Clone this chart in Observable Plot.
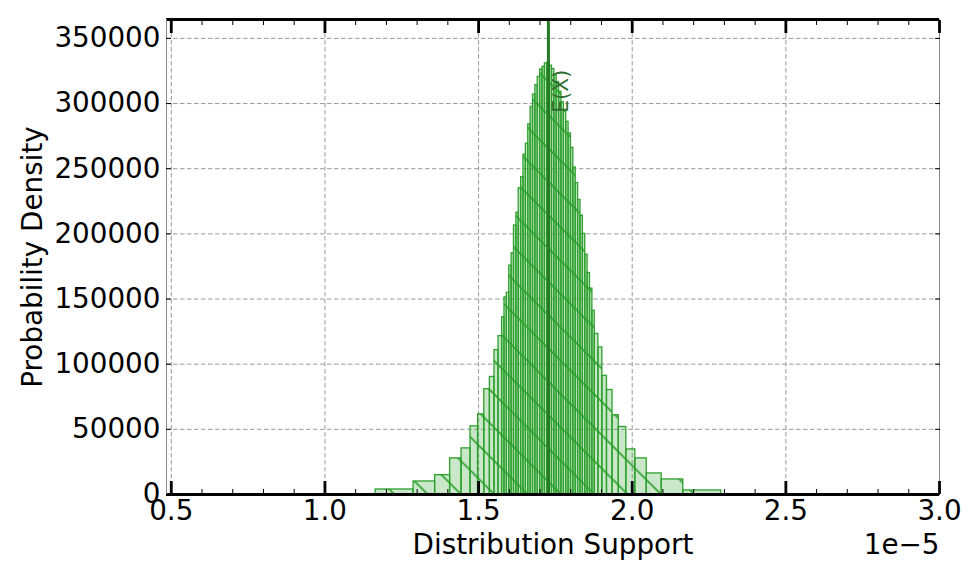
<!DOCTYPE html>
<html><head><meta charset="utf-8">
<script src="https://cdn.jsdelivr.net/npm/d3@7"></script>
<script src="https://cdn.jsdelivr.net/npm/@observablehq/plot@0.6"></script>
<style>html,body{margin:0;padding:0;background:#fff;} svg{display:block;}</style>
</head><body><div id="chart"></div>
<script>
// Bin edges (in units of 1e-5) and probability densities
const binEdges = [1.1649, 1.2884, 1.3586, 1.4074, 1.4445, 1.4737, 1.4984, 1.5186, 1.5368, 1.5518,
  1.5648, 1.5766, 1.5843, 1.5920, 1.5998, 1.6075, 1.6152, 1.6230, 1.6307, 1.6385,
  1.6462, 1.6539, 1.6617, 1.6694, 1.6771, 1.6849, 1.6926, 1.7004, 1.7081, 1.7158,
  1.7236, 1.7310, 1.7388, 1.7465, 1.7542, 1.7620, 1.7697, 1.7775, 1.7852, 1.7929,
  1.8007, 1.8084, 1.8162, 1.8239, 1.8316, 1.8394, 1.8471, 1.8548, 1.8626, 1.8703,
  1.8781, 1.8899, 1.9029, 1.9178, 1.9360, 1.9562, 1.9809, 2.0101, 2.0472, 2.0960,
  2.1662, 2.2897];
const density = [3850, 10000, 14850, 27700, 35400, 52300, 61500, 80800, 90200, 110800,
  121500, 136000, 151200, 154800, 175600, 185100, 206400, 216200, 235000, 243500,
  260800, 269200, 284100, 297400, 306900, 314100, 320500, 326200, 328200, 330800,
  331400,
  329000, 326500, 321500, 316500, 309000, 301000, 293500, 286000, 277000, 266000,
  251000, 239000, 226000, 214000, 200000, 184000, 170000, 158000, 141000, 123200,
  112800, 91000, 80200, 60800, 51800, 34600, 27700, 16150, 11540, 3080];
const meanValue = 1.7273;
const meanLabelY = 293000;
const xMajorTicks = [0.5, 1.0, 1.5, 2.0, 2.5, 3.0];
const xMinorTicks = [0.6, 0.7, 0.8, 0.9, 1.1, 1.2, 1.3, 1.4, 1.6, 1.7, 1.8, 1.9,
  2.1, 2.2, 2.3, 2.4, 2.6, 2.7, 2.8, 2.9];
const yTicks = [0, 50000, 100000, 150000, 200000, 250000, 300000, 350000];
const xDomain = [0.4844, 3.0];
const yDomain = [0, 364500];
const xLabel = "Distribution Support";
const yLabel = "Probability Density";
const offsetLabel = "1e\u22125";
const meanLabel = "E(X)";

const bins = density.map((d, i) => ({x1: binEdges[i], x2: binEdges[i + 1], density: d}));
const green = "#2ca02c";
const fs = 27.8;

function tickAxisX(anchor, ticks, size, width) {
  return Plot.axisX({anchor, ticks, tickSize: size, strokeWidth: width, stroke: "#000", fill: "none", label: null, tickFormat: () => ""});
}
function tickAxisY(anchor, ticks, size, width) {
  return Plot.axisY({anchor, ticks, tickSize: size, strokeWidth: width, stroke: "#000", fill: "none", label: null, tickFormat: () => ""});
}

const plot = Plot.plot({
  width: 980, height: 580,
  marginLeft: 166, marginRight: 41, marginTop: 19, marginBottom: 86,
  style: {fontFamily: "DejaVu Sans", fontSize: fs + "px", background: "#fff", color: "#000", overflow: "visible"},
  x: {domain: xDomain},
  y: {domain: yDomain},
  marks: [
    Plot.gridX({ticks: xMajorTicks, stroke: "#9a9a9a", strokeOpacity: 1, strokeWidth: 1, strokeDasharray: "4.5,2.5"}),
    Plot.gridY({ticks: yTicks, stroke: "#9a9a9a", strokeOpacity: 1, strokeWidth: 1, strokeDasharray: "4.5,2.5"}),
    Plot.rect(bins, {x1: "x1", x2: "x2", y1: () => 0, y2: "density", fill: green, fillOpacity: 0.25}),
    Plot.rect(bins, {x1: "x1", x2: "x2", y1: () => 0, y2: "density", fill: "url(#hatch)"}),
    Plot.rect(bins, {x1: "x1", x2: "x2", y1: () => 0, y2: "density", fill: "none", stroke: green, strokeWidth: 1.3}),
    Plot.ruleX([meanValue], {stroke: "#267a26", strokeWidth: 3}),
    Plot.text([{x: meanValue, y: meanLabelY, t: meanLabel}], {x: "x", y: "y", text: "t", rotate: -90, textAnchor: "start", lineAnchor: "middle", dx: 13.5, fill: "#2e6e2e", fontSize: 20.4}),
    Plot.ruleY([yDomain[0], yDomain[1]], {stroke: "#000", strokeWidth: 3}),
    Plot.ruleX(xDomain, {stroke: "#888", strokeWidth: 1}),
    tickAxisX("bottom", xMajorTicks, -13, 2.8),
    tickAxisX("top", xMajorTicks, -13, 2.8),
    tickAxisX("bottom", xMinorTicks, -5, 1),
    tickAxisX("top", xMinorTicks, -5, 1),
    tickAxisY("left", yTicks, -5, 1),
    tickAxisY("right", yTicks, -5, 1),
    Plot.axisX({anchor: "bottom", ticks: xMajorTicks, tickFormat: d3.format(".1f"), tickSize: 0, tickPadding: 6, fontSize: fs, fill: "#000", label: null}),
    Plot.axisY({anchor: "left", ticks: yTicks, tickFormat: d3.format("d"), tickSize: 0, tickPadding: 6, fontSize: fs, fill: "#000", label: null}),
    Plot.text([xLabel], {text: d => d, frameAnchor: "bottom", dy: 51, lineAnchor: "middle", fontSize: fs, fill: "#000"}),
    Plot.text([offsetLabel], {text: d => d, frameAnchor: "bottom-right", textAnchor: "end", dy: 51, lineAnchor: "middle", fontSize: fs, fill: "#000"}),
    Plot.text([yLabel], {text: d => d, frameAnchor: "left", rotate: -90, dx: -133, textAnchor: "middle", lineAnchor: "middle", fontSize: fs, fill: "#000"})
  ]
});

const s = 33.33;
d3.select(plot).insert("defs", ":first-child").html(
  `<pattern id="hatch" patternUnits="userSpaceOnUse" x="0" y="0" width="${s}" height="${s}">` +
  `<path d="M-3,-3L${s + 3},${s + 3}M${s - 3},-3L${s + 3},3M-3,${s - 3}L3,${s + 3}" stroke="${green}" stroke-width="1.6" fill="none"/>` +
  `</pattern>`);
document.getElementById("chart").appendChild(plot);
</script>
</body></html>
